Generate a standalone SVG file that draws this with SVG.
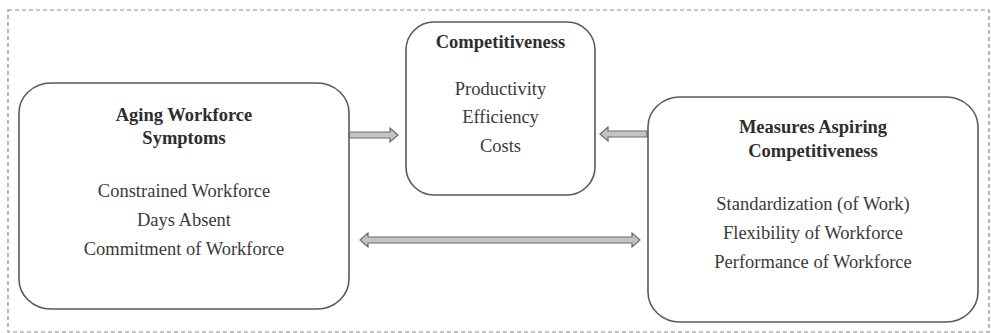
<svg xmlns="http://www.w3.org/2000/svg" width="991" height="333" viewBox="0 0 991 333">
<style>
.frame{fill:none;stroke:#8a8a8a;stroke-width:1.2;stroke-dasharray:4 3}
.box{fill:#fff;stroke:#5a5a5a;stroke-width:1.6}
.t{font-family:"Liberation Serif","Times New Roman",serif;font-size:18.5px;fill:#3a3a3a;text-anchor:middle}
.b{font-weight:bold;fill:#2e2e2e}
.arr{fill:#c4c4c4;stroke:#6a6a6a;stroke-width:1.2;stroke-linejoin:miter}
</style>
<rect width="991" height="333" fill="#fff"/>
<rect class="frame" x="8" y="10" width="981" height="322"/>
<g id="connectors">
<path class="arr" d="M349,132 H390 V128 L398,135 L390,142 V138 H349 Z"/>
<path class="arr" d="M647,131 H608 V127 L600,134 L608,141 V137 H647 Z"/>
<path class="arr" d="M360,240 L368,233 V237 H632 V233 L640,240 L632,247 V243 H368 V247 Z"/>
</g>
<g id="aging">
<rect class="box" x="19" y="83" width="330" height="226" rx="32" ry="30"/>
<text class="t b" x="184" y="121">Aging Workforce</text>
<text class="t b" x="184" y="144">Symptoms</text>
<text class="t" x="184" y="197">Constrained Workforce</text>
<text class="t" x="184" y="226">Days Absent</text>
<text class="t" x="184" y="255">Commitment of Workforce</text>
</g>
<g id="competitiveness">
<rect class="box" x="406" y="22" width="189" height="173" rx="28" ry="28"/>
<text class="t b" x="500.5" y="48">Competitiveness</text>
<text class="t" x="500.5" y="95">Productivity</text>
<text class="t" x="500.5" y="123">Efficiency</text>
<text class="t" x="500.5" y="152">Costs</text>
</g>
<g id="measures">
<rect class="box" x="648" y="97" width="330" height="225" rx="32" ry="30"/>
<text class="t b" x="813" y="133">Measures Aspiring</text>
<text class="t b" x="813" y="157">Competitiveness</text>
<text class="t" x="813" y="210">Standardization (of Work)</text>
<text class="t" x="813" y="239">Flexibility of Workforce</text>
<text class="t" x="813" y="268">Performance of Workforce</text>
</g>
</svg>
